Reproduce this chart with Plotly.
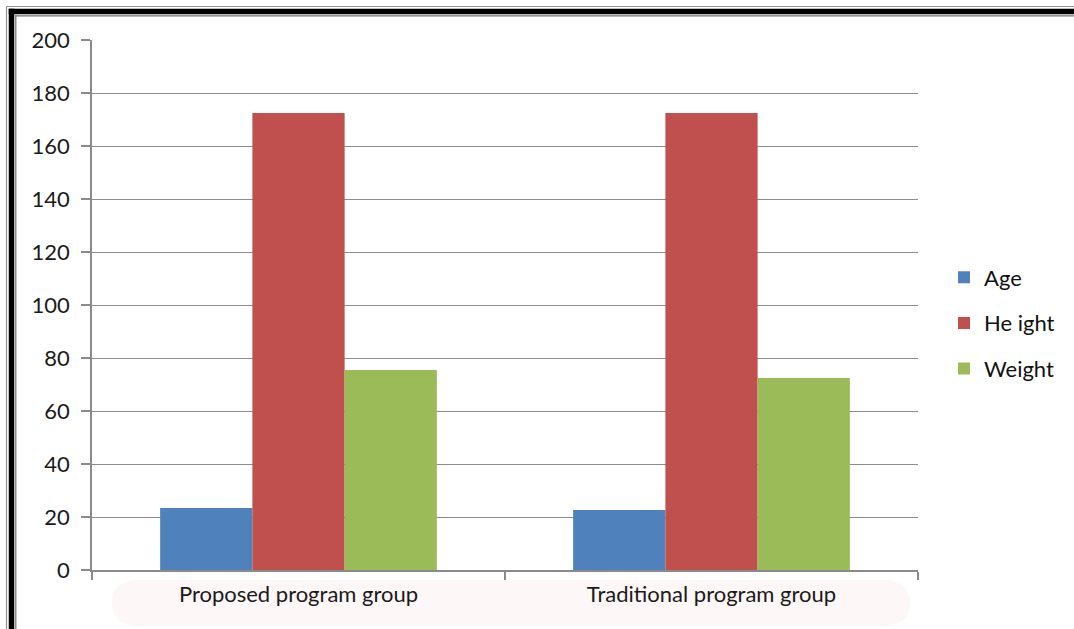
import plotly.graph_objects as go

# Group means by measure
groups = ["Proposed program group", "Traditional program group"]
age = [23.4, 22.6]
height = [172.5, 172.5]
weight = [75.5, 72.5]

series_names = ["Age", "Height", "Weight"]
series_values = [age, height, weight]
series_colors = ["#4F81BD", "#C0504D", "#9BBB59"]
legend_labels = ["Age", "He ight", "Weight"]

y_ticks = [0, 20, 40, 60, 80, 100, 120, 140, 160, 180, 200]

W, H = 1074, 629
ML, MR, MT, MB = 92, 156, 40, 59
PW, PH = W - ML - MR, H - MT - MB


def px_x(px):
    return (px - ML) / PW


def px_y(py):
    return (H - MB - py) / PH


fig = go.Figure()
for name, vals, col, lab in zip(series_names, series_values, series_colors, legend_labels):
    fig.add_trace(go.Bar(
        x=groups, y=vals, name=lab, marker=dict(color=col, line=dict(width=0)),
        legendgroup=name,
    ))

font_family = "Lato, Open Sans, Noto Sans, sans-serif"


def rounded_band(x0, x1, y0, y1, r):
    # rounded-end band in paper coordinates, built from pixel positions
    pts = [
        f"M {px_x(x0 + r)} {px_y(y0)}",
        f"L {px_x(x1 - r)} {px_y(y0)}",
        f"Q {px_x(x1)} {px_y(y0)} {px_x(x1)} {px_y((y0 + y1) / 2)}",
        f"Q {px_x(x1)} {px_y(y1)} {px_x(x1 - r)} {px_y(y1)}",
        f"L {px_x(x0 + r)} {px_y(y1)}",
        f"Q {px_x(x0)} {px_y(y1)} {px_x(x0)} {px_y((y0 + y1) / 2)}",
        f"Q {px_x(x0)} {px_y(y0)} {px_x(x0 + r)} {px_y(y0)}",
        "Z",
    ]
    return " ".join(pts)


shapes = []
# soft tinted band behind the category labels
shapes.append(dict(type="path", xref="paper", yref="paper",
                   path=rounded_band(112, 910, 580, 626, 28),
                   fillcolor="rgba(250,236,236,0.4)", line=dict(width=0), layer="below"))
# outer double frame (top and left edges)
for off, w, c in [(6.5, 1.2, "#909090"), (11.5, 5.5, "#000000"), (15.8, 1.2, "#707070")]:
    shapes.append(dict(type="line", xref="paper", yref="paper",
                       x0=px_x(off - w / 2 if off > 7 else off), x1=px_x(W + 5),
                       y0=px_y(off), y1=px_y(off), line=dict(color=c, width=w)))
    shapes.append(dict(type="line", xref="paper", yref="paper",
                       x0=px_x(off), x1=px_x(off),
                       y0=px_y(off - w / 2 if off > 7 else off), y1=px_y(H + 5),
                       line=dict(color=c, width=w)))

fig.update_layout(
    width=W, height=H,
    margin=dict(l=ML, r=MR, t=MT, b=MB, pad=0),
    paper_bgcolor="white", plot_bgcolor="white",
    barmode="group", bargap=0.33, bargroupgap=0,
    font=dict(family=font_family, size=22, color="#1a1a1a"),
    showlegend=True,
    legend=dict(x=px_x(944), xanchor="left", y=px_y(323), yanchor="middle",
                font=dict(size=22, color="#111111"), tracegroupgap=14,
                itemsizing="constant", bgcolor="rgba(0,0,0,0)"),
    xaxis=dict(
        type="category", showgrid=False, showline=True, linecolor="#8a8a8a", linewidth=1.5,
        ticks="outside", tickson="boundaries", ticklen=8, tickcolor="#8a8a8a", tickwidth=1.5,
        tickfont=dict(size=22, color="#1a1a1a"), range=[-0.5, 1.5], ticklabelstandoff=4,
    ),
    yaxis=dict(
        range=[0, 200], tickvals=y_ticks, showgrid=True, gridcolor="#8c8c8c", gridwidth=1.3,
        showline=True, linecolor="#8a8a8a", linewidth=1.5, zeroline=False,
        ticks="outside", ticklen=9, tickcolor="#8a8a8a", tickwidth=1.5,
        tickfont=dict(size=22, color="#1a1a1a"), ticklabelstandoff=7,
    ),
    shapes=shapes,
)

fig.write_html("out.html")
